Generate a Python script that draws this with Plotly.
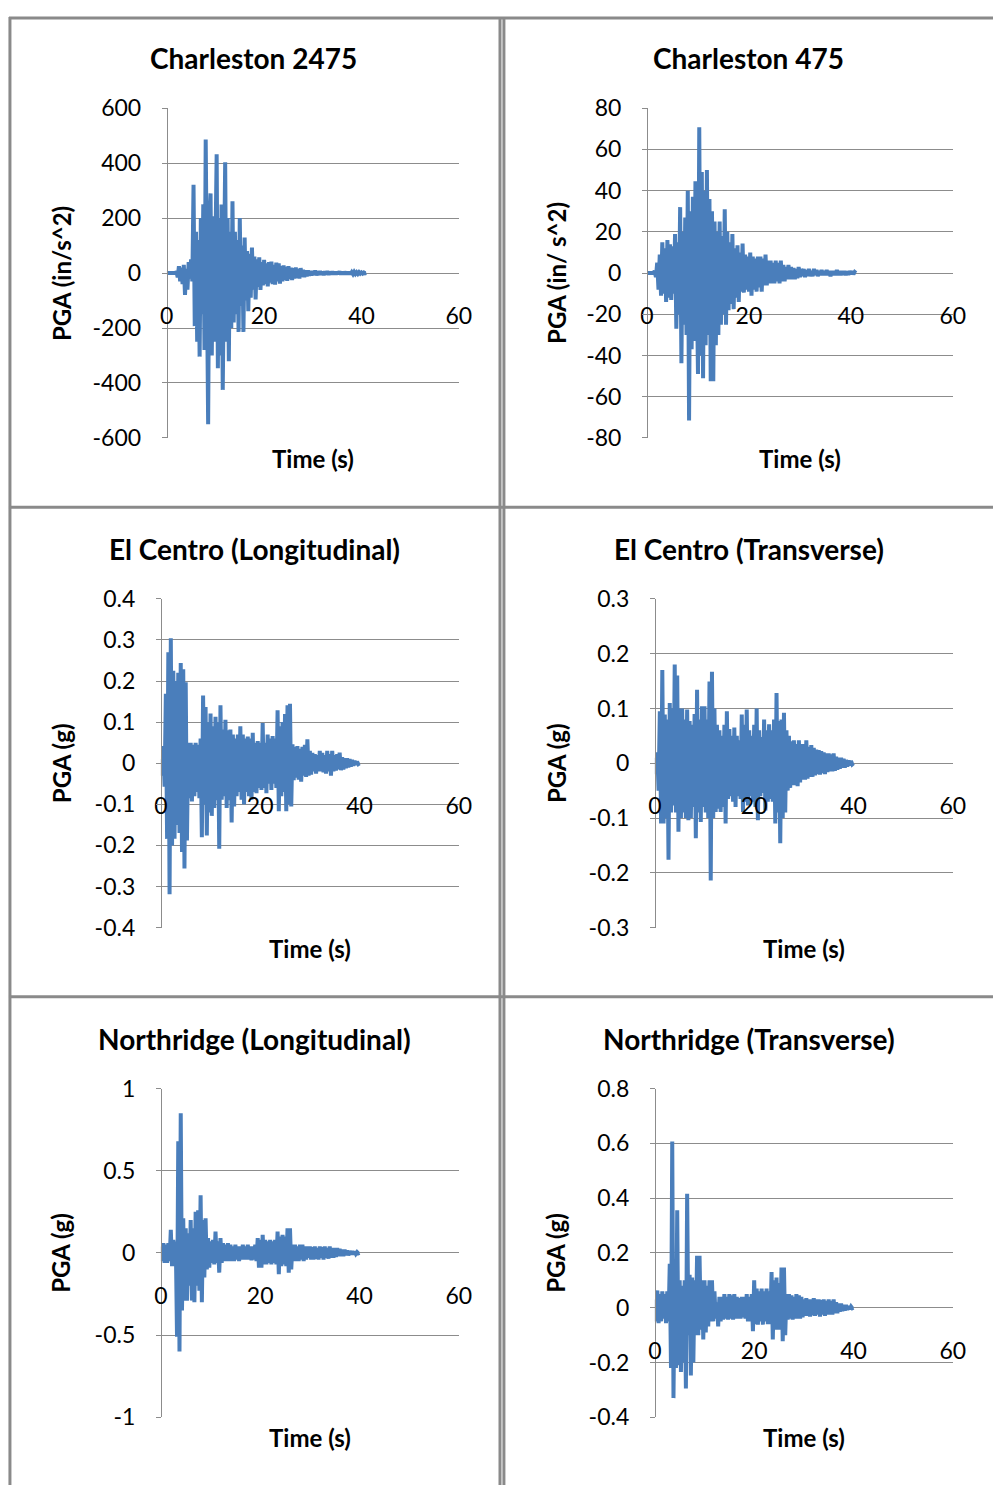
import numpy as np
import plotly.graph_objects as go

# ---------------- data ----------------
DT = 0.25  # sample spacing (s) of the digitised records

titles = ["Charleston 2475", "Charleston 475",
          "El Centro (Longitudinal)", "El Centro (Transverse)",
          "Northridge (Longitudinal)", "Northridge (Transverse)"]
y_titles = ["PGA (in/s^2)", "PGA (in/ s^2)", "PGA (g)", "PGA (g)", "PGA (g)", "PGA (g)"]
x_title = "Time (s)"

x_tickvals = [0, 20, 40, 60]
x_ticktext = ["0", "20", "40", "60"]

y_tickvals = [
    [-600, -400, -200, 0, 200, 400, 600],
    [-80, -60, -40, -20, 0, 20, 40, 60, 80],
    [-0.4, -0.3, -0.2, -0.1, 0, 0.1, 0.2, 0.3, 0.4],
    [-0.3, -0.2, -0.1, 0, 0.1, 0.2, 0.3],
    [-1, -0.5, 0, 0.5, 1],
    [-0.4, -0.2, 0, 0.2, 0.4, 0.6, 0.8],
]
y_ticktext = [
    ["-600", "-400", "-200", "0", "200", "400", "600"],
    ["-80", "-60", "-40", "-20", "0", "20", "40", "60", "80"],
    ["-0.4", "-0.3", "-0.2", "-0.1", "0", "0.1", "0.2", "0.3", "0.4"],
    ["-0.3", "-0.2", "-0.1", "0", "0.1", "0.2", "0.3"],
    ["-1", "-0.5", "0", "0.5", "1"],
    ["-0.4", "-0.2", "0", "0.2", "0.4", "0.6", "0.8"],
]

charleston_2475 = [
    0, 0, 0, 0, 0, 0, 0, 0, 5, -15, 25, -30, 20, -40, 30, -79, 15, -60, 40, -20,
    50, -30, 321, -193, 150, -250, 120, -304, 200, -150, 250, -280, 486, -200, -550, 180, 290, -300, 207, -250,
    250, 432, -346, 200, -300, 250, -425, 150, 403, -250, 200, -321, 150, -200, 261, -180, 150, -150, 120, -214,
    200, -120, 100, -214, 129, -100, 80, -139, 70, -90, 93, -60, 60, -96, 50, -50, 57, -61, 40, -45,
    48, -40, 35, -48, 40, -35, 42, -40, 30, -42, 38, -30, 35, -38, 25, -30, 28, -25, 22, -28,
    25, -22, 20, -25, 18, -20, 20, -18, 15, -20, 18, -14, 12, -15, 10, -12, 10, -10, 8, -9,
    8, -7, 9, -8, 6, -7, 7, -6, 5, -7, 6, -5, 7, -6, 5, -5, 6, -5, 4, -5,
    5, -4, 6, -5, 4, -5, 5, -4, 4, -5, 5, -4, 3, -4, 4, -3, 3, -3, 3, -2, 2, -2, 2, -1, 0,
]

charleston_475 = [
    0, 0, 0, 0, 0, 0, 1, -2, 5, -8, 9, -11, 15, -10, 12, -14, 16, -12, 14, -13,
    13, -10, 19, -27, 15, -20, 32, -43.7, 20, -25, 27, -30, 40, -71.5, 30, -37, 37, -33, 44.5, -30,
    -49, 70.8, -40, 49, -51, 40, -35, 50, -30, 36, -52.5, 30, -52.5, 25, -35, 20, -30, 25, -25, 18,
    -20, 31, -25, 20, -18, 15, -15, 19, -17.5, 12, -12, 13.5, -14, 10, -9, 14.3, -9.5, 9, -8, 8,
    -9, 10, -11, 8, -8, 7, -9, 8, -7, 8, -9, 7, -6, 9, -6, 6, -5, 6, -5, 5,
    -5, 6, -4, 5, -5, 6, -4, 4, -4, 3, -3, 4, -3, 3, -3, 2.5, -3, 2, -2.5, 3,
    -2, 2, -1.5, 2, -2, 1.5, -1.5, 2, -1.5, 1, -1.5, 2, -1, 1.5, -1.5, 1, -1, 1.5, -1, 1,
    -1, 1.5, -1, 1, -1.5, 1, -1, 1, -1, 1.5, -1, 1, -1, 1, -0.8, 1, -1, 0.8, -0.8, 1, -0.5, 0.8, -0.5, 0.5, 0,
]

el_centro_long = [
    0.01, -0.03, 0.042, -0.057, 0.169, -0.184, 0.27, -0.319, 0.304, -0.2, 0.225, -0.184, 0.2, -0.15, 0.22, -0.17, 0.244, -0.216, 0.229, -0.256,
    0.197, -0.188, 0.05, -0.085, 0.05, -0.093, 0.045, -0.08, 0.05, -0.07, 0.045, -0.085, 0.06, -0.18, 0.165, -0.1, 0.137, -0.176, 0.1, -0.12,
    0.121, -0.128, 0.09, -0.109, 0.113, -0.09, 0.1, -0.208, 0.141, -0.089, 0.082, -0.08, 0.106, -0.109, 0.08, -0.09, 0.082, -0.144, 0.07, -0.105,
    0.06, -0.08, 0.07, -0.07, 0.09, -0.089, 0.07, -0.1, 0.06, -0.07, 0.065, -0.08, 0.06, -0.089, 0.074, -0.07, 0.05, -0.073, 0.054, -0.06,
    0.05, -0.065, 0.098, -0.06, 0.05, -0.073, 0.07, -0.05, 0.06, -0.065, 0.066, -0.05, 0.06, -0.06, 0.129, -0.117, 0.09, -0.08, 0.1, -0.07,
    0.12, -0.117, 0.141, -0.1, 0.145, -0.105, 0.046, -0.041, 0.04, -0.035, 0.042, -0.04, 0.035, -0.045, 0.04, -0.03, 0.045, -0.033, 0.058, -0.03,
    0.03, -0.028, 0.025, -0.02, 0.022, -0.025, 0.02, -0.02, 0.03, -0.02, 0.025, -0.022, 0.02, -0.025, 0.03, -0.02, 0.022, -0.03, 0.03, -0.02,
    0.02, -0.018, 0.022, -0.015, 0.026, -0.017, 0.015, -0.015, 0.012, -0.012, 0.012, -0.01, 0.01, -0.008, 0.008, -0.006, 0.006, -0.004, 0.004, -0.002, 0,
]

el_centro_trans = [
    0.01, -0.02, 0.02, -0.05, 0.095, -0.11, 0.17, -0.11, 0.089, -0.1, 0.08, -0.176, 0.11, -0.09, 0.1, -0.077, 0.18, -0.09, 0.16, -0.125,
    0.1, -0.1, 0.1, -0.09, 0.08, -0.1, 0.098, -0.104, 0.077, -0.1, 0.07, -0.08, 0.09, -0.137, 0.134, -0.09, 0.08, -0.107, 0.104, -0.08,
    0.104, -0.09, 0.08, -0.1, 0.149, -0.214, 0.167, -0.1, 0.1, -0.089, 0.07, -0.083, 0.06, -0.089, 0.05, -0.08, 0.07, -0.11, 0.095, -0.065,
    0.0625, -0.06, 0.05, -0.07, 0.065, -0.08, 0.05, -0.06, 0.042, -0.065, 0.089, -0.089, 0.07, -0.07, 0.098, -0.077, 0.06, -0.06, 0.05, -0.07,
    0.07, -0.08, 0.1, -0.104, 0.06, -0.06, 0.048, -0.054, 0.08, -0.086, 0.06, -0.07, 0.071, -0.065, 0.06, -0.07, 0.08, -0.11, 0.128, -0.09,
    0.077, -0.146, 0.08, -0.1, 0.092, -0.09, 0.06, -0.05, 0.05, -0.045, 0.04, -0.04, 0.042, -0.04, 0.035, -0.042, 0.042, -0.035, 0.035, -0.03,
    0.035, -0.03, 0.042, -0.028, 0.03, -0.025, 0.033, -0.025, 0.028, -0.022, 0.025, -0.02, 0.024, -0.021, 0.022, -0.018, 0.02, -0.02, 0.018, -0.016,
    0.018, -0.015, 0.016, -0.015, 0.018, -0.014, 0.012, -0.012, 0.01, -0.01, 0.01, -0.008, 0.008, -0.008, 0.006, -0.006, 0.005, -0.004, 0.004, -0.002, 0,
]

northridge_long = [
    0.04, -0.05, 0.06, -0.06, 0.05, -0.06, 0.06, -0.05, 0.14, -0.08, 0.08, -0.08, 0.07, -0.51, 0.68, -0.6, 0.85, -0.35, 0.21, -0.29,
    0.15, -0.29, 0.12, -0.2, 0.2, -0.29, 0.15, -0.3, 0.25, -0.2, 0.26, -0.23, 0.35, -0.3, 0.2, -0.15, 0.21, -0.1, 0.09, -0.09,
    0.07, -0.06, 0.08, -0.07, 0.13, -0.06, 0.07, -0.12, 0.09, -0.06, 0.06, -0.05, 0.05, -0.05, 0.06, -0.05, 0.05, -0.05, 0.04, -0.05,
    0.05, -0.04, 0.04, -0.05, 0.04, -0.04, 0.05, -0.04, 0.04, -0.04, 0.05, -0.04, 0.04, -0.045, 0.04, -0.04, 0.05, -0.05, 0.09, -0.09,
    0.08, -0.09, 0.11, -0.07, 0.08, -0.07, 0.07, -0.06, 0.08, -0.07, 0.07, -0.06, 0.08, -0.07, 0.13, -0.13, 0.1, -0.08, 0.11, -0.07,
    0.1, -0.08, 0.15, -0.12, 0.15, -0.1, 0.05, -0.05, 0.05, -0.05, 0.04, -0.05, 0.05, -0.04, 0.05, -0.05, 0.04, -0.04, 0.04, -0.03,
    0.04, -0.04, 0.035, -0.04, 0.04, -0.035, 0.03, -0.04, 0.04, -0.03, 0.035, -0.04, 0.04, -0.03, 0.03, -0.035, 0.04, -0.03, 0.03, -0.03,
    0.03, -0.025, 0.03, -0.02, 0.025, -0.02, 0.02, -0.02, 0.02, -0.015, 0.015, -0.015, 0.012, -0.01, 0.01, -0.01, 0.008, -0.006, 0.005, -0.003, 0,
]

northridge_trans = [
    0.03, -0.05, 0.063, -0.056, 0.05, -0.05, 0.06, -0.04, 0.05, -0.056, 0.06, -0.05, 0.16, -0.22, 0.607, -0.33, 0.11, -0.22, 0.356, -0.21,
    0.1, -0.235, 0.08, -0.2, 0.1, -0.295, 0.416, -0.1, 0.12, -0.247, 0.11, -0.2, 0.1, -0.1, 0.19, -0.1, 0.19, -0.08, 0.1, -0.116,
    0.1, -0.09, 0.08, -0.068, 0.1, -0.05, 0.1, -0.05, 0.06, -0.04, 0.02, -0.068, 0.04, -0.05, 0.04, -0.044, 0.05, -0.04, 0.04, -0.044,
    0.05, -0.04, 0.045, -0.044, 0.05, -0.04, 0.04, -0.04, 0.035, -0.04, 0.04, -0.035, 0.04, -0.04, 0.05, -0.05, 0.04, -0.05, 0.05, -0.086,
    0.1, -0.06, 0.07, -0.062, 0.06, -0.05, 0.07, -0.062, 0.06, -0.05, 0.07, -0.06, 0.06, -0.06, 0.13, -0.116, 0.1, -0.08, 0.11, -0.08,
    0.09, -0.08, 0.147, -0.122, 0.147, -0.1, 0.05, -0.044, 0.05, -0.04, 0.045, -0.044, 0.04, -0.04, 0.05, -0.04, 0.045, -0.04, 0.04, -0.035,
    0.03, -0.03, 0.035, -0.03, 0.03, -0.032, 0.03, -0.028, 0.035, -0.03, 0.03, -0.025, 0.03, -0.032, 0.028, -0.025, 0.03, -0.03, 0.025, -0.025,
    0.03, -0.025, 0.025, -0.025, 0.03, -0.02, 0.02, -0.02, 0.015, -0.015, 0.015, -0.012, 0.01, -0.01, 0.01, -0.008, 0.006, -0.005, 0.004, -0.002, 0,
]

series = [charleston_2475, charleston_475, el_centro_long,
          el_centro_trans, northridge_long, northridge_trans]

# ---------------- layout geometry (pixels) ----------------
W, H = 1006, 1498
# plot-area boxes: left, right, top, bottom
boxes = [
    (163, 461, 95, 431),
    (653, 965, 95, 431),
    (157, 461, 595, 930),
    (661, 965, 595, 930),
    (157, 461, 1094, 1429),
    (661, 965, 1094, 1429),
]
cell_cx = [252, 757, 253, 757, 253, 757]
title_y = [44, 44, 544, 544, 1043, 1043]
ytitle_x = [55, 560, 55, 560, 55, 560]

FONT = "Lato"
LINE = "#4A7EBB"
GRID = "#8C8C8C"
BORDER = "#8A8A8A"


def px(x):
    return x / W


def py(y):
    return 1 - y / H


fig = go.Figure()
annotations = []
shapes = []

for i, vals in enumerate(series):
    n = i + 1
    xa = "x" if n == 1 else f"x{n}"
    ya = "y" if n == 1 else f"y{n}"
    t = np.arange(len(vals)) * DT
    fig.add_trace(go.Scatter(x=t, y=vals, mode="lines", xaxis=xa, yaxis=ya,
                             line=dict(color=LINE, width=4), showlegend=False,
                             hoverinfo="skip"))
    l, r, tp, bt = boxes[i]
    ymin, ymax = y_tickvals[i][0], y_tickvals[i][-1]
    dom_y = [py(bt), py(tp)]
    zero_pos = dom_y[0] + (0 - ymin) / (ymax - ymin) * (dom_y[1] - dom_y[0])
    xkey = "xaxis" if n == 1 else f"xaxis{n}"
    ykey = "yaxis" if n == 1 else f"yaxis{n}"
    fig.layout[xkey] = dict(
        domain=[px(l), px(r)], range=[0, 60], anchor="free", position=zero_pos,
        tickvals=x_tickvals, ticktext=x_ticktext, showgrid=False, zeroline=False,
        showline=False, ticks="", ticklabelstandoff=27,
        tickfont=dict(family=FONT, size=23, color="#000000"), fixedrange=True,
    )
    fig.layout[ykey] = dict(
        domain=dom_y, range=[ymin, ymax], anchor="free",
        position=px(l), tickvals=y_tickvals[i], ticktext=y_ticktext[i],
        showgrid=True, gridcolor=GRID, gridwidth=1, zeroline=False,
        showline=True, linecolor=GRID, linewidth=1, ticks="outside", ticklen=5,
        tickcolor=GRID, ticklabelstandoff=16,
        tickfont=dict(family=FONT, size=23, color="#000000"), fixedrange=True,
    )
    # chart title
    annotations.append(dict(text=f"<b>{titles[i]}</b>", x=px(cell_cx[i]), y=py(title_y[i]),
                            xref="paper", yref="paper", showarrow=False,
                            xanchor="center", yanchor="middle",
                            font=dict(family=FONT, size=28, color="#000000")))
    # x axis title
    annotations.append(dict(text=f"<b>{x_title}</b>", x=px((l + r) / 2), y=py(bt + 21),
                            xref="paper", yref="paper", showarrow=False,
                            xanchor="center", yanchor="middle",
                            font=dict(family=FONT, size=24, color="#000000")))
    # y axis title
    annotations.append(dict(text=f"<b>{y_titles[i]}</b>", x=px(ytitle_x[i]), y=py((tp + bt) / 2),
                            xref="paper", yref="paper", showarrow=False, textangle=-90,
                            xanchor="center", yanchor="middle",
                            font=dict(family=FONT, size=24, color="#000000")))


# cell borders
def hline(y, x0, x1):
    shapes.append(dict(type="line", xref="paper", yref="paper", x0=px(x0), x1=px(x1),
                       y0=py(y), y1=py(y), line=dict(color=BORDER, width=3)))


def vline(x, y0, y1):
    shapes.append(dict(type="line", xref="paper", yref="paper", x0=px(x), x1=px(x),
                       y0=py(y0), y1=py(y1), line=dict(color=BORDER, width=3)))


hline(3, 2, 1006)
hline(501.5, 2, 1006)
hline(1000.5, 2, 1006)
vline(3, 2, 1498)
vline(503, 2, 1498)
vline(507, 2, 1498)

fig.update_layout(width=W, height=H, margin=dict(l=0, r=0, t=0, b=0),
                  paper_bgcolor="white", plot_bgcolor="rgba(0,0,0,0)",
                  annotations=annotations, shapes=shapes,
                  font=dict(family=FONT))

fig.write_html("out.html")
